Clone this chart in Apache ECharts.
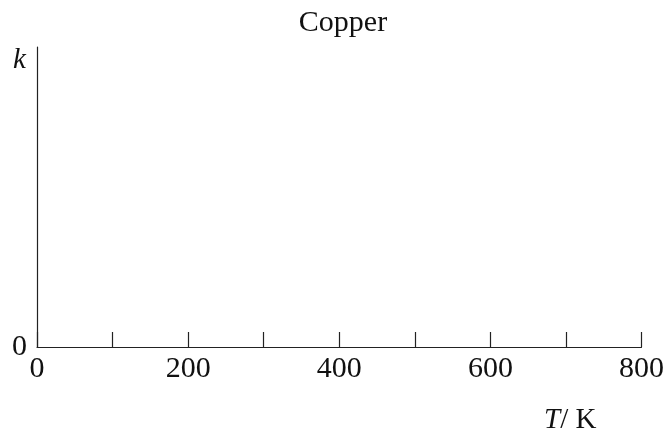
<!DOCTYPE html>
<html>
<head>
<meta charset="utf-8">
<script src="https://cdn.jsdelivr.net/npm/echarts@6/dist/echarts.min.js"></script>
<style>html,body{margin:0;padding:0;background:#fff}#c{width:667px;height:439px}</style>
</head>
<body>
<div id="c"></div>
<script>
var titleText = 'Copper';
var xTicks = [0, 100, 200, 300, 400, 500, 600, 700, 800];
var xLabels = ['0', '200', '400', '600', '800'];
var yLabels = ['0'];
var xName = 'T / K';
var yName = 'k';
var seriesData = [];

var FONT = 'Liberation Serif';
var chart = echarts.init(document.getElementById('c'), null, {renderer: 'canvas'});
chart.setOption({
  backgroundColor: '#fff',
  animation: false,
  title: [
    {text: titleText, left: 338, top: 3, textAlign: 'center',
     textStyle: {fontFamily: FONT, fontWeight: 'normal', fontSize: 30, color: '#111'}},
    {text: yName, left: 8, top: 41,
     textStyle: {fontFamily: FONT, fontStyle: 'italic', fontWeight: 'normal', fontSize: 29, color: '#111'}},
    {text: '{i|T}{n|/ K}', left: 539, top: 401,
     textStyle: {fontWeight: 'normal', rich: {
       i: {fontFamily: FONT, fontStyle: 'italic', fontWeight: 'normal', fontSize: 29, color: '#111'},
       n: {fontFamily: FONT, fontWeight: 'normal', fontSize: 29, color: '#111'}
     }}}
  ],
  grid: {left: 37, right: 25, top: 47, bottom: 92, containLabel: false},
  xAxis: {
    type: 'value', min: xTicks[0], max: xTicks[xTicks.length - 1], interval: 100,
    axisLine: {show: true, onZero: false, lineStyle: {color: '#222', width: 1.2}},
    axisTick: {show: true, inside: true, length: 15, lineStyle: {color: '#222', width: 1.2}},
    splitLine: {show: false},
    axisLabel: {
      margin: 7, color: '#111', fontFamily: FONT, fontSize: 30,
      formatter: function (v) { var s = String(v); return xLabels.indexOf(s) >= 0 ? s : ''; }
    }
  },
  yAxis: {
    type: 'value', min: 0, max: 1, interval: 1,
    axisLine: {show: true, onZero: false, lineStyle: {color: '#222', width: 1.2}},
    axisTick: {show: false},
    splitLine: {show: false},
    axisLabel: {
      margin: 10, color: '#111', fontFamily: FONT, fontSize: 30,
      formatter: function (v) { var s = String(v); return yLabels.indexOf(s) >= 0 ? s : ''; }
    }
  },
  series: [{type: 'line', data: seriesData, showSymbol: false}]
});
</script>
</body>
</html>
